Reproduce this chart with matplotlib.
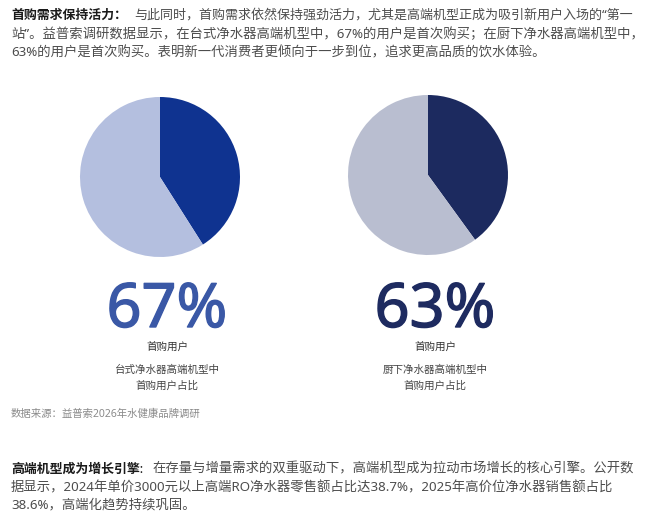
import matplotlib
matplotlib.use("Agg")
import matplotlib.pyplot as plt
import matplotlib.patheffects as pe

plt.rcParams['font.family'] = ['Noto Sans', 'Noto Sans CJK SC', 'DejaVu Sans']

# 数据
top_lead = "首购需求保持活力："
top_lines = [
    "与此同时，首购需求依然保持强劲活力，尤其是高端机型正成为吸引新用户入场的“第一",
    "站”。益普索调研数据显示，在台式净水器高端机型中，67%的用户是首次购买；在厨下净水器高端机型中，",
    "63%的用户是首次购买。表明新一代消费者更倾向于一步到位，追求更高品质的饮水体验。",
]
pie_values = [[41, 59], [40, 60]]
big_numbers = ["67%", "63%"]
sub_label = "首购用户"
desc_lines = [["台式净水器高端机型中", "首购用户占比"],
              ["厨下净水器高端机型中", "首购用户占比"]]
source = "数据来源：益普索2026年水健康品牌调研"
bottom_lead = "高端机型成为增长引擎:"
bottom_lines = [
    "在存量与增量需求的双重驱动下，高端机型成为拉动市场增长的核心引擎。公开数",
    "据显示，2024年单价3000元以上高端RO净水器零售额占比达38.7%，2025年高价位净水器销售额占比",
    "38.6%，高端化趋势持续巩固。",
]

pie_colors = [["#0f3390", "#b4bfdf"], ["#1c2a5f", "#b9bed0"]]
num_colors = ["#3a58a6", "#1e2b60"]

W, H = 650, 518
fig = plt.figure(figsize=(W / 100, H / 100), dpi=100)
fig.patch.set_facecolor("white")


def px(x, y):
    return x / W, 1 - y / H


def txt(x, y, s, va="center", **kw):
    fx, fy = px(x, y)
    fig.text(fx, fy, s, va=va, **kw)


body_fs = 9.6
body_col = "#4d4d4d"

# 顶部段落
txt(11, 15.5, top_lead, fontsize=9.3, fontweight="bold", color="#1a1a1a")
txt(134, 15.5, top_lines[0], fontsize=9.4, color=body_col)
txt(11, 34, top_lines[1], fontsize=body_fs, color=body_col)
txt(11, 52.5, top_lines[2], fontsize=body_fs, color=body_col)

# 饼图
centers = [(160, 177), (428, 175)]
r = 80
for i, (cx, cy) in enumerate(centers):
    x0, y0 = px(cx - r, cy + r)
    ax = fig.add_axes([x0, y0, 2 * r / W, 2 * r / H])
    ax.pie(pie_values[i], colors=pie_colors[i], startangle=90,
           counterclock=False, radius=1)
    ax.set_xlim(-1, 1)
    ax.set_ylim(-1, 1)
    ax.set_aspect("equal")
    ax.axis("off")

# 大数字与说明 (字体没有粗体时用描边加粗)
num_x = [167, 435]
for i in range(2):
    txt(num_x[i], 327, big_numbers[i], va="baseline", fontsize=44,
        color=num_colors[i], ha="center",
        path_effects=[pe.withStroke(linewidth=1.0, foreground=num_colors[i])])
    txt(num_x[i], 348, sub_label, fontsize=7.6, color="#333333", ha="center")
    txt(num_x[i], 370, desc_lines[i][0], fontsize=7.6, color="#444444", ha="center")
    txt(num_x[i], 386, desc_lines[i][1], fontsize=7.6, color="#444444", ha="center")

txt(11, 414, source, fontsize=7.5, color="#8a8a8a")

# 底部段落
txt(11, 469, bottom_lead, fontsize=9.3, fontweight="bold", color="#1a1a1a")
txt(152, 469, bottom_lines[0], fontsize=body_fs, color=body_col)
txt(11, 487.5, bottom_lines[1], fontsize=body_fs, color=body_col)
txt(11, 504.5, bottom_lines[2], fontsize=body_fs, color=body_col)

fig.savefig("out.png", dpi=100, facecolor="white")
